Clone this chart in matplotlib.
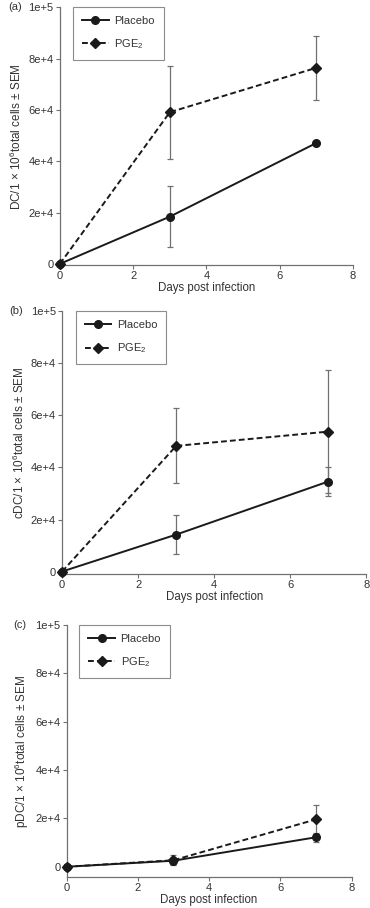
import matplotlib
matplotlib.use('Agg')
import matplotlib.pyplot as plt

plt.rcParams['font.family'] = ['Liberation Sans', 'DejaVu Sans']
plt.rcParams['mathtext.fontset'] = 'custom'
plt.rcParams['mathtext.rm'] = 'Liberation Sans'

# days post infection
days = [0, 3, 7]

# panel (a) DC
dc_placebo = [0, 18400, 47100]
dc_placebo_sem = [0, 11900, 900]
dc_pge2 = [0, 59100, 76400]
dc_pge2_sem = [0, 18100, 12400]

# panel (b) cDC
cdc_placebo = [0, 14200, 34600]
cdc_placebo_sem = [0, 7600, 5500]
cdc_pge2 = [0, 48300, 53800]
cdc_pge2_sem = [0, 14400, 23800]

# panel (c) pDC
pdc_placebo = [0, 2500, 12200]
pdc_placebo_sem = [0, 1500, 1900]
pdc_pge2 = [0, 2700, 19600]
pdc_pge2_sem = [0, 2000, 5900]

yticks = [0, 20000, 40000, 60000, 80000, 100000]
yticklabels = ['0', '2e+4', '4e+4', '6e+4', '8e+4', '1e+5']
xticks = [0, 2, 4, 6, 8]

panels = [
    ('(a)', 'DC', dc_placebo, dc_placebo_sem, dc_pge2, dc_pge2_sem,
     [0.162, 0.708, 0.792, 0.284], -500, 8),
    ('(b)', 'cDC', cdc_placebo, cdc_placebo_sem, cdc_pge2, cdc_pge2_sem,
     [0.168, 0.368, 0.822, 0.289], -900, 9),
    ('(c)', 'pDC', pdc_placebo, pdc_placebo_sem, pdc_pge2, pdc_pge2_sem,
     [0.180, 0.0345, 0.770, 0.277], -4100, 13),
]

grey = '#707070'
ink = '#1a1a1a'
txt = '#333333'
fs = 8

fig = plt.figure(figsize=(3.7, 9.08), dpi=100)

for tag, name, pla, pla_e, pge, pge_e, pos, ylo, tag_x in panels:
    ax = fig.add_axes(pos)
    # error bars first, lines and markers on top
    ax.errorbar(days, pge, yerr=pge_e, fmt='none', ecolor=grey, elinewidth=0.9,
                capsize=2.4, capthick=0.9, clip_on=False, zorder=2)
    ax.errorbar(days, pla, yerr=pla_e, fmt='none', ecolor=grey, elinewidth=0.9,
                capsize=2.4, capthick=0.9, clip_on=False, zorder=2)
    ax.plot(days, pla, color=ink, lw=1.4, marker='o', ms=5.5,
            label='Placebo', clip_on=False, zorder=4)
    ax.plot(days, pge, color=ink, lw=1.4, ls=(0, (3, 1.6)), marker='D',
            ms=5, label='PGE$_2$', clip_on=False, zorder=3)

    ax.set_xlim(0, 8)
    ax.set_ylim(ylo, 100000)
    ax.set_xticks(xticks)
    ax.set_yticks(yticks)
    ax.set_yticklabels(yticklabels)
    for s in ['top', 'right']:
        ax.spines[s].set_visible(False)
    for s in ['left', 'bottom']:
        ax.spines[s].set_color(grey)
        ax.spines[s].set_linewidth(0.9)
    ax.tick_params(colors=grey, labelcolor=txt, labelsize=fs,
                   length=3, width=0.8, pad=1.5)

    ax.set_xlabel('Days post infection', fontsize=8.3, color=txt,
                  labelpad=0.5)
    ax.set_ylabel(name + '/1 $\\times$ 10$^6$total cells $\\pm$ SEM',
                  fontsize=8.5, color=txt, labelpad=3)
    fig.text(tag_x / 370, pos[1] + pos[3], tag, fontsize=fs, color=txt,
             ha='left', va='center')

    leg = ax.legend(loc='upper left', bbox_to_anchor=(0.045, 1.0),
                    fontsize=fs, frameon=True, fancybox=False,
                    edgecolor=grey, handlelength=2.4, borderpad=0.8,
                    labelspacing=1.0, handletextpad=0.5, borderaxespad=0.0)
    leg.get_frame().set_linewidth(0.8)
    for t in leg.get_texts():
        t.set_color(txt)

fig.savefig('out.png', dpi=100)
